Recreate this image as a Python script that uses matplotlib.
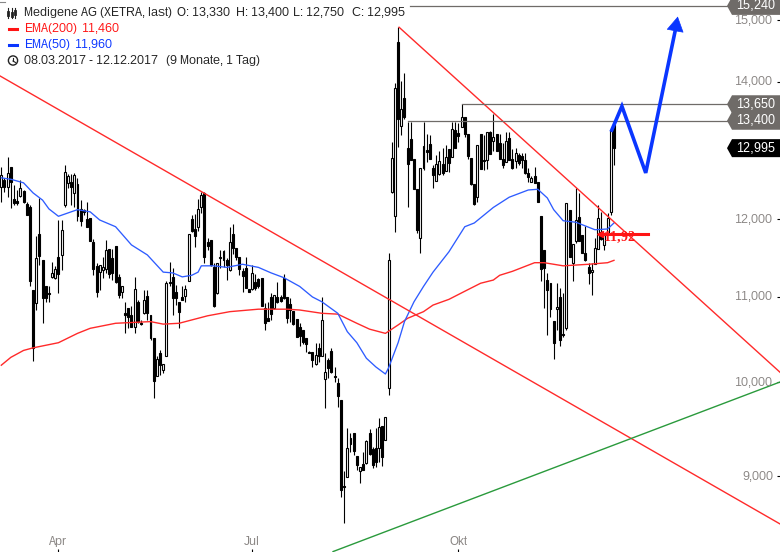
import matplotlib
matplotlib.use("Agg")
import matplotlib.pyplot as plt
from matplotlib.lines import Line2D
from matplotlib.patches import Circle, Polygon
from matplotlib.transforms import Affine2D

plt.rcParams['font.family'] = ['Liberation Sans', 'DejaVu Sans']
plt.rcParams['text.hinting'] = 'native'
plt.rcParams['text.hinting_factor'] = 1

# daily candles
opens = [
    12.44, 12.54, 12.44, 12.73, 12.27, 12.25, 12.32, 12.39, 12.21, 12.17,
    11.09, 10.93, 11.81, 11.47, 11.13, 11.05, 11.25, 11.24, 11.50, 11.53,
    12.19, 12.50, 12.51, 12.36, 12.48, 12.14, 12.13, 12.00, 12.02, 11.70,
    11.39, 11.31, 11.34, 11.35, 11.61, 11.49, 11.65, 11.25, 11.06, 10.80,
    10.86, 10.78, 10.64, 10.94, 10.68, 10.80, 11.01, 10.78, 10.51, 10.07,
    10.33, 10.14, 10.30, 11.19, 11.25, 11.06, 10.94, 11.00, 11.01, 11.20,
    12.00, 11.87, 11.90, 12.17, 12.36, 11.70, 11.73, 11.37, 11.05, 11.50,
    11.58, 11.46, 11.34, 11.80, 11.62, 11.50, 11.32, 11.36, 11.10, 11.10,
    11.19, 11.22, 11.24, 10.86, 10.74, 11.00, 10.86, 11.00, 11.00, 11.24,
    11.00, 10.91, 10.83, 10.73, 10.64, 10.60, 10.51, 10.34, 10.34, 10.20,
    10.39, 10.30, 10.03, 10.25, 10.35, 10.07, 9.99, 9.80, 8.90, 8.99,
    9.39, 9.45, 9.20, 9.05, 9.12, 9.13, 9.45, 9.28, 9.29, 9.29,
    9.52, 9.37, 9.93, 12.37, 12.04, 14.63, 13.32, 13.74, 13.00, 13.13,
    12.84, 12.41, 11.75, 13.03, 12.97, 13.05, 12.71, 12.53, 12.62, 12.77,
    12.67, 12.98, 12.86, 13.26, 13.22, 13.31, 13.46, 13.20, 12.85, 12.48,
    12.30, 13.20, 12.82, 12.82, 13.23, 13.10, 13.20, 13.07, 12.84, 12.79,
    13.14, 12.84, 12.81, 12.89, 12.88, 12.82, 12.64, 12.51, 12.60, 12.51,
    12.04, 11.59, 11.21, 11.17, 10.71, 10.85, 11.00, 10.55, 10.62, 12.13,
    11.43, 11.71, 12.03, 11.79, 11.55, 11.37, 11.31, 11.41, 11.61, 11.83,
    11.66, 11.82, 12.10, 13.33,
]
highs = [
    12.72, 12.57, 12.86, 12.73, 12.47, 12.40, 12.54, 12.40, 12.24, 12.19,
    11.09, 11.78, 12.29, 11.47, 11.13, 11.13, 11.44, 11.39, 11.99, 11.99,
    12.75, 12.62, 12.62, 12.64, 12.57, 12.26, 12.14, 12.24, 12.02, 11.74,
    11.43, 11.40, 11.50, 11.73, 11.61, 11.61, 11.65, 11.29, 11.14, 10.94,
    10.86, 10.89, 11.25, 10.96, 10.72, 11.09, 11.09, 10.78, 10.51, 10.29,
    10.37, 10.20, 11.20, 11.44, 11.36, 11.15, 10.94, 11.14, 11.15, 11.80,
    12.06, 12.07, 12.27, 12.37, 12.37, 11.75, 11.73, 11.43, 11.43, 11.59,
    11.59, 11.49, 11.89, 11.94, 11.62, 11.50, 11.36, 11.50, 11.10, 11.40,
    11.28, 11.24, 11.24, 10.93, 10.94, 11.05, 11.02, 11.19, 11.02, 11.28,
    11.00, 10.99, 10.83, 10.73, 10.68, 10.60, 10.51, 10.35, 10.34, 10.45,
    10.45, 11.00, 10.33, 10.27, 10.39, 10.17, 10.04, 9.80, 9.05, 9.50,
    9.45, 9.45, 9.20, 9.09, 9.25, 9.37, 9.49, 9.30, 9.50, 9.61,
    9.52, 9.62, 11.55, 13.08, 13.98, 14.88, 14.01, 14.13, 13.38, 13.38,
    12.84, 12.41, 12.71, 13.38, 13.20, 13.19, 12.75, 12.89, 12.95, 13.00,
    13.04, 12.98, 13.38, 13.38, 13.37, 13.65, 13.46, 13.20, 12.85, 12.48,
    13.04, 13.20, 13.19, 13.23, 13.25, 13.50, 13.20, 13.20, 13.07, 13.23,
    13.23, 12.98, 13.00, 12.92, 12.92, 12.92, 12.71, 12.60, 12.72, 12.51,
    12.04, 11.59, 11.30, 11.17, 10.71, 11.17, 11.11, 11.05, 12.22, 12.13,
    11.67, 12.43, 12.36, 11.79, 11.91, 11.43, 11.43, 11.75, 12.19, 12.10,
    11.82, 12.09, 13.28, 13.40,
]
lows = [
    12.23, 12.37, 12.30, 12.15, 12.19, 12.19, 12.30, 12.22, 12.06, 11.13,
    10.24, 10.84, 11.40, 10.68, 10.94, 10.94, 11.24, 11.22, 11.05, 11.34,
    12.17, 12.43, 12.19, 12.17, 11.98, 11.91, 12.06, 11.90, 11.71, 11.27,
    11.00, 11.09, 11.24, 11.30, 11.24, 11.21, 11.17, 10.99, 10.99, 10.56,
    10.62, 10.64, 10.56, 10.68, 10.66, 10.79, 10.72, 10.48, 9.82, 10.07,
    10.08, 10.10, 10.30, 11.13, 10.78, 10.90, 10.62, 10.96, 10.94, 11.20,
    11.83, 11.63, 11.84, 12.09, 11.43, 11.59, 11.39, 10.88, 11.04, 11.36,
    11.37, 11.21, 11.32, 11.54, 11.46, 11.27, 11.06, 11.11, 11.06, 11.09,
    11.09, 11.11, 10.89, 10.60, 10.71, 10.72, 10.85, 10.93, 10.94, 10.97,
    10.68, 10.70, 10.66, 10.52, 10.41, 10.44, 10.34, 10.33, 10.17, 10.19,
    10.23, 10.30, 9.71, 10.04, 10.10, 10.00, 9.72, 8.79, 8.54, 8.99,
    9.25, 9.22, 9.06, 8.93, 9.06, 9.12, 9.22, 9.08, 9.09, 9.14,
    9.10, 9.37, 9.85, 12.36, 11.83, 13.01, 13.19, 13.43, 12.16, 12.82,
    12.41, 11.82, 11.55, 12.68, 12.79, 12.84, 12.43, 12.53, 12.61, 12.61,
    12.67, 12.65, 12.86, 13.00, 13.08, 13.31, 13.16, 12.84, 12.47, 12.19,
    12.24, 12.69, 12.68, 12.69, 12.91, 12.95, 12.95, 12.84, 12.71, 12.79,
    12.82, 12.69, 12.71, 12.75, 12.71, 12.62, 12.51, 12.51, 12.50, 12.24,
    11.20, 10.87, 10.54, 10.76, 10.26, 10.60, 10.41, 10.52, 10.60, 11.50,
    11.20, 11.69, 11.71, 11.55, 11.45, 11.16, 11.02, 11.41, 11.61, 11.73,
    11.59, 11.79, 12.06, 12.75,
]
closes = [
    12.61, 12.44, 12.64, 12.51, 12.22, 12.22, 12.43, 12.24, 12.06, 11.20,
    10.39, 11.49, 11.52, 10.99, 10.99, 11.04, 11.30, 11.35, 11.29, 11.86,
    12.65, 12.60, 12.44, 12.61, 12.04, 11.98, 12.10, 11.90, 11.71, 11.35,
    11.06, 11.40, 11.37, 11.59, 11.29, 11.30, 11.19, 11.02, 11.14, 10.78,
    10.75, 10.64, 11.10, 10.70, 10.67, 10.96, 10.80, 10.51, 10.01, 10.26,
    10.19, 10.20, 11.17, 11.17, 10.99, 10.99, 10.82, 10.96, 11.10, 11.80,
    11.84, 11.78, 12.14, 12.33, 11.50, 11.65, 11.40, 10.89, 11.43, 11.49,
    11.46, 11.40, 11.70, 11.62, 11.50, 11.35, 11.26, 11.11, 11.06, 11.30,
    11.11, 11.13, 10.89, 10.68, 10.71, 10.79, 11.02, 10.94, 10.95, 10.99,
    10.74, 10.84, 10.67, 10.52, 10.53, 10.46, 10.43, 10.33, 10.25, 10.31,
    10.29, 10.72, 10.11, 10.16, 10.11, 10.06, 9.84, 8.86, 8.89, 9.29,
    9.33, 9.26, 9.11, 9.09, 9.06, 9.36, 9.23, 9.11, 9.14, 9.51,
    9.19, 9.62, 11.46, 12.85, 13.90, 13.43, 13.58, 13.46, 12.77, 12.82,
    12.41, 11.85, 12.71, 12.71, 12.94, 12.84, 12.61, 12.77, 12.81, 12.64,
    12.86, 12.78, 13.28, 13.00, 13.17, 13.46, 13.20, 12.88, 12.48, 12.21,
    13.04, 12.69, 12.81, 13.23, 12.91, 13.16, 12.95, 12.84, 12.75, 13.10,
    12.82, 12.71, 12.92, 12.78, 12.82, 12.64, 12.58, 12.57, 12.50, 12.24,
    11.35, 11.36, 11.09, 10.85, 10.45, 10.88, 10.48, 10.54, 12.22, 11.50,
    11.67, 11.99, 11.71, 11.55, 11.46, 11.30, 11.34, 11.62, 12.02, 11.74,
    11.79, 12.02, 13.25, 12.995,
]

# moving averages, read at the bends of each line
ema200_days = [0, 3, 7, 10, 18, 24, 28, 36, 47, 51, 56, 59, 65, 72, 81, 90, 94, 101, 106,
               112, 116, 121, 125, 128, 133, 136, 141, 146, 151, 155, 157, 161, 168, 171,
               177, 185, 191, 193]
ema200 = [10.19, 10.28, 10.36, 10.39, 10.45, 10.56, 10.62, 10.68, 10.70, 10.67, 10.68, 10.71,
          10.77, 10.82, 10.85, 10.85, 10.84, 10.80, 10.79, 10.68, 10.61, 10.56, 10.66, 10.74,
          10.82, 10.90, 10.97, 11.07, 11.17, 11.21, 11.27, 11.32, 11.43, 11.43, 11.39, 11.41,
          11.43, 11.46]
ema50_days = [0, 3, 7, 10, 13, 15, 18, 22, 24, 28, 31, 36, 41, 46, 51, 54, 57, 60, 62, 63, 67,
              71, 76, 81, 85, 89, 94, 98, 101, 106, 109, 112, 115, 118, 121, 122, 125, 127,
              130, 133, 136, 141, 146, 149, 155, 160, 166, 169, 172, 174, 177, 181, 184, 187,
              191, 193]
ema50 = [12.57, 12.55, 12.50, 12.36, 12.26, 12.14, 12.04, 12.10, 12.13, 12.10, 11.99, 11.90,
         11.66, 11.53, 11.31, 11.30, 11.25, 11.27, 11.31, 11.39, 11.39, 11.37, 11.41, 11.37,
         11.30, 11.24, 11.13, 11.00, 10.94, 10.80, 10.58, 10.45, 10.27, 10.17, 10.09, 10.16,
         10.45, 10.70, 10.94, 11.13, 11.31, 11.57, 11.90, 11.95, 12.16, 12.30, 12.40, 12.41,
         12.29, 12.13, 11.98, 11.96, 11.91, 11.86, 11.87, 11.95]

# drawn trend lines (day, price)
trend1_days, trend1_prices = [-0.41, 245.3], [14.09, 8.53]
trend2_days, trend2_prices = [125.3, 245.3], [14.88, 10.11]
support_days, support_prices = [104.5, 245.3], [8.27, 10.0]
forecast_days, forecast_prices = [192.3, 195.5, 203, 212.2], [13.26, 13.62, 12.64, 14.80]
forecast_tip = (213.1, 15.06)

levels = [15.24, 13.65, 13.40]
level_starts = [128.7, 145.1, 128.0]
level_labels = ['15,240', '13,650', '13,400']
last_price, last_label = 12.995, '12,995'
target_price, target_label, target_days = 11.80, '11,92', [188.5, 203.7]

y_ticks = [9, 10, 11, 12, 14, 15]
y_tick_labels = ['9,000', '10,000', '11,000', '12,000', '14,000', '15,000']
x_ticks = [18, 79, 144]
x_tick_labels = ['Apr', 'Jul', 'Okt']

RED = '#ff2a2a'
DEEP_RED = '#ff1414'
BLUE = '#2e5cff'
DEEP_BLUE = '#0a36ff'
GREY = '#6f6b68'
LABEL = '#8a8684'
TEXT = '#222222'

fig = plt.figure(figsize=(7.8, 5.52), dpi=100)
ax = fig.add_axes([0, 0, 1, 1])
ax.set_yscale('log')
ax.set_xlim(-0.41, 245.3)
ax.set_ylim(8.266, 15.341)

for s in ax.spines.values():
    s.set_visible(False)
ax.minorticks_off()
ax.yaxis.set_ticks_position('right')
ax.set_yticks(y_ticks)
ax.set_yticklabels([])
ax.set_xticks(x_ticks)
ax.set_xticklabels([])
ax.tick_params(axis='both', which='major', direction='in', length=2.4, width=0.8, color='black')
ax.tick_params(axis='both', which='minor', length=0)

# candles
days = list(range(len(opens)))
ax.vlines(days, lows, highs, color='black', lw=0.8, zorder=2)
bottoms = [min(o, c) for o, c in zip(opens, closes)]
sizes = [abs(o - c) for o, c in zip(opens, closes)]
faces = ['white' if c >= o else 'black' for o, c in zip(opens, closes)]
ax.bar(days, sizes, bottom=bottoms, width=0.62, color=faces, edgecolor='black', linewidth=0.8, zorder=3)

# lines
ax.plot(ema200_days, ema200, color=RED, lw=1.0, zorder=4)
ax.plot(ema50_days, ema50, color=BLUE, lw=0.95, zorder=4)
ax.plot(trend1_days, trend1_prices, color=RED, lw=1.0, zorder=4)
ax.plot(trend2_days, trend2_prices, color=RED, lw=1.0, zorder=4)
ax.plot(support_days, support_prices, color='#2a9a3c', lw=1.0, zorder=4)
for price, start in zip(levels, level_starts):
    ax.plot([start, 245.3], [price, price], color=GREY, lw=0.9, zorder=4)

# forecast arrow
ax.plot(forecast_days, forecast_prices, color=DEEP_BLUE, lw=2.6, solid_joinstyle='miter', zorder=5)
ax.annotate('', xy=forecast_tip, xytext=(forecast_days[-1], forecast_prices[-1]),
            arrowprops=dict(arrowstyle='-|>,head_length=0.62,head_width=0.36', color=DEEP_BLUE,
                            lw=0.5, mutation_scale=16, shrinkA=0, shrinkB=0), zorder=5)

# price target
ax.plot(target_days, [target_price, target_price], color=DEEP_RED, lw=2.2, zorder=5)
ax.annotate(target_label, xy=(189.7, target_price), va='center', ha='left', color=DEEP_RED,
            fontsize=10, fontweight='bold', family=['Liberation Serif', 'DejaVu Serif'],
            xytext=(0, -2), textcoords='offset points', zorder=5)
ax.plot([188.5], [target_price], marker='<', ms=4, color=DEEP_RED, zorder=5)

# axis labels sit inside the plot
for price, label in zip(y_ticks, y_tick_labels):
    ax.annotate(label, xy=(1, price), xycoords=ax.get_yaxis_transform(), xytext=(-5, 0),
                textcoords='offset points', color=LABEL, fontsize=8.8, ha='right', va='center', zorder=6)
for day, label in zip(x_ticks, x_tick_labels):
    ax.annotate(label, xy=(day, 0), xycoords=ax.get_xaxis_transform(), xytext=(0, 7.6),
                textcoords='offset points', color=LABEL, fontsize=8.8, ha='center', va='center', zorder=6)


def px(x, y):
    return x / 780, 1 - y / 552


def tag(price, label, color):
    y = 552 - ax.transData.transform((0, price))[1]
    corners = [(727, y), (732, y - 9), (780, y - 9), (780, y + 9), (732, y + 9)]
    fig.add_artist(Polygon([px(a, b) for a, b in corners], closed=True, facecolor=color,
                           edgecolor='none', transform=fig.transFigure, zorder=7))
    fig.text(*px(755.5, y), label, color='white', fontsize=9, ha='center', va='center', zorder=8)


for price, label in zip(levels, level_labels):
    tag(price, label, GREY)
tag(last_price, last_label, 'black')

# legend block top left
fig.text(*px(24, 13), 'Medigene AG (XETRA, last)', color=TEXT, fontsize=8.4, va='center')
for x, txt in [(177, 'O: 13,330'), (235.5, 'H: 13,400'), (293, 'L: 12,750'), (352, 'C: 12,995')]:
    fig.text(*px(x, 13), txt, color=TEXT, fontsize=8.7, va='center')
fig.text(*px(24, 29), 'EMA(200)', color=DEEP_RED, fontsize=8.7, va='center')
fig.text(*px(82, 29), '11,460', color=DEEP_RED, fontsize=8.7, va='center')
fig.text(*px(24, 45), 'EMA(50)', color=DEEP_BLUE, fontsize=8.7, va='center')
fig.text(*px(75, 45), '11,960', color=DEEP_BLUE, fontsize=8.7, va='center')
fig.text(*px(24, 60.5), '08.03.2017 - 12.12.2017', color=TEXT, fontsize=8.7, va='center')
fig.text(*px(166.5, 60.5), '(9 Monate, 1 Tag)', color=TEXT, fontsize=8.6, va='center')


def seg(x0, y0, x1, y1, color, lw):
    a, b = px(x0, y0), px(x1, y1)
    fig.add_artist(Line2D([a[0], b[0]], [a[1], b[1]], color=color, lw=lw, transform=fig.transFigure))


seg(9, 29, 17, 29, DEEP_RED, 2.2)
seg(9, 45, 17, 45, DEEP_BLUE, 2.2)
seg(0, 2, 5, 2, '#888888', 0.8)

# candle icon
for x in [7.5, 11.5, 15.5]:
    seg(x, 8, x, 18, TEXT, 0.8)
for x, t, b in [(7.5, 12, 15), (11.5, 13, 16), (15.5, 11, 14)]:
    seg(x, t, x, b, TEXT, 2.0)

# clock icon
fig.add_artist(Circle((13, 552 - 60.5), 4.6, facecolor='none', edgecolor=TEXT, lw=1.0,
                      transform=Affine2D().scale(1 / 780, 1 / 552) + fig.transFigure))
seg(13, 57.5, 13, 61, TEXT, 0.8)
seg(13, 61, 15.5, 62.5, TEXT, 0.8)

fig.savefig('out.png', dpi=100)
